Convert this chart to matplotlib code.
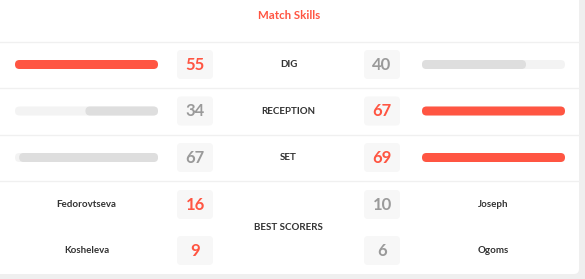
import matplotlib
matplotlib.use("Agg")
import matplotlib.pyplot as plt
from matplotlib.patches import FancyBboxPatch

# ---- data ----
title = "Match Skills"
skills = ["DIG", "RECEPTION", "SET"]
home_values = [55, 34, 67]
away_values = [40, 67, 69]
scorers_label = "BEST SCORERS"
home_scorers = ["Fedorovtseva", "Kosheleva"]
home_scores = [16, 9]
away_scorers = ["Joseph", "Ogoms"]
away_scores = [10, 6]

RED = "#ff5542"
GREY_NUM = "#9a9a9a"
TRACK = "#f3f3f3"
FILL = "#dedede"
BOX = "#f7f7f7"
TXT = "#333333"
SEP = "#f0f0f0"
FONT = "Lato"

W, H = 585, 279
fig = plt.figure(figsize=(W / 100, H / 100), dpi=100)
fig.patch.set_facecolor("#efefef")
ax = fig.add_axes([0, 0, 1, 1])
ax.set_xlim(0, W)
ax.set_ylim(H, 0)
ax.axis("off")

# card
ax.add_patch(FancyBboxPatch((-10, -10), 589, 284, boxstyle="round,pad=0,rounding_size=5",
                            fc="white", ec="none", zorder=0))

ax.text(289.5, 15.5, title, ha="center", va="center", color=RED, fontsize=8.3,
        fontweight="bold", family=FONT)

for y in [41.5, 88, 134.5, 181]:
    ax.plot([0, 579], [y, y], color=SEP, lw=1, zorder=1)

LX0, LX1 = 15, 158
RX0, RX1 = 422, 565
BH = 9
LBOX, RBOX = 195, 382
CX = 288.5
LBL = 7.0


def bar(x0, w, yc, color):
    ax.add_patch(FancyBboxPatch((x0, yc - BH / 2), w, BH,
                                boxstyle="round,pad=0,rounding_size=4.5",
                                fc=color, ec="none", zorder=2))


def numbox(xc, yc, val, color):
    ax.add_patch(FancyBboxPatch((xc - 18, yc - 14.5), 36, 29,
                                boxstyle="round,pad=0,rounding_size=4",
                                fc=BOX, ec="none", zorder=2))
    ax.text(xc, yc + 0.5, str(val), ha="center", va="center", color=color,
            fontsize=12, fontweight="bold", family=FONT, zorder=3)


row_y = [64.5, 111, 157.5]
for name, hv, av, yc in zip(skills, home_values, away_values, row_y):
    mx = max(hv, av)
    L = LX1 - LX0
    # home bar (fills toward centre)
    bar(LX0, L, yc, TRACK)
    if hv >= av:
        bar(LX0, L, yc, RED)
    else:
        w = L * hv / mx
        bar(LX1 - w, w, yc, FILL)
    # away bar
    bar(RX0, L, yc, TRACK)
    if av >= hv:
        bar(RX0, L, yc, RED)
    else:
        w = L * av / mx
        bar(RX0, w, yc, FILL)
    numbox(LBOX, yc, hv, RED if hv >= av else GREY_NUM)
    numbox(RBOX, yc, av, RED if av >= hv else GREY_NUM)
    ax.text(CX, yc, name, ha="center", va="center", color=TXT, fontsize=LBL,
            fontweight="bold", family=FONT)

sc_y = [204.5, 250.5]
for hn, hs, an, as_, yc in zip(home_scorers, home_scores, away_scorers, away_scores, sc_y):
    ax.text((LX0 + LX1) / 2, yc, hn, ha="center", va="center", color=TXT,
            fontsize=LBL, fontweight="bold", family=FONT)
    ax.text((RX0 + RX1) / 2, yc, an, ha="center", va="center", color=TXT,
            fontsize=LBL, fontweight="bold", family=FONT)
    numbox(LBOX, yc, hs, RED if hs >= as_ else GREY_NUM)
    numbox(RBOX, yc, as_, RED if as_ > hs else GREY_NUM)

ax.text(CX, 227, scorers_label, ha="center", va="center", color=TXT, fontsize=LBL,
        fontweight="bold", family=FONT)

fig.savefig("out.png", dpi=100, facecolor=fig.get_facecolor())
